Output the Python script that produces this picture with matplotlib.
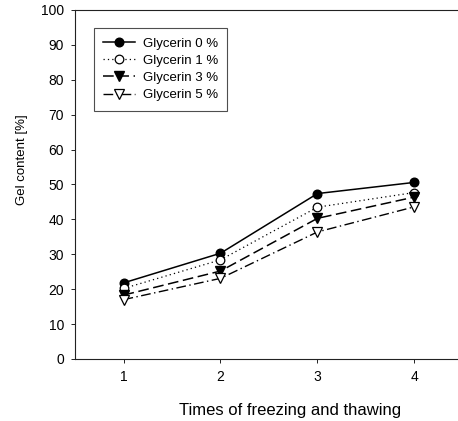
# gel content of the hydrogels after repeated freezing / thawing cycles,
# one curve per glycerin concentration
import matplotlib.pyplot as plt

plt.rcParams['font.family'] = ['Liberation Sans', 'DejaVu Sans']

# DATA
cycles = [1, 2, 3, 4]
gel_glycerin_0 = [21.8, 30.3, 47.4, 50.6]
gel_glycerin_1 = [20.2, 28.4, 43.5, 47.7]
gel_glycerin_3 = [18.3, 25.2, 40.3, 46.4]
gel_glycerin_5 = [17.0, 23.1, 36.4, 43.6]
series_labels = ["Glycerin 0 %", "Glycerin 1 %", "Glycerin 3 %", "Glycerin 5 %"]

# FIGURE
fig = plt.figure(figsize=(4.58, 4.21), dpi=100)
ax = fig.add_axes([0.1638, 0.1473, 0.847, 0.829])

ax.plot(cycles, gel_glycerin_0, color='black', lw=1.1, ls='-',
        marker='o', ms=6.2, mfc='black', mec='black', label=series_labels[0])
ax.plot(cycles, gel_glycerin_1, color='black', lw=0.9, ls=(0, (1, 2.5)),
        marker='o', ms=6.2, mfc='white', mec='black', mew=0.9, label=series_labels[1])
ax.plot(cycles, gel_glycerin_3, color='black', lw=1.1, ls=(0, (7, 3)),
        marker='v', ms=6.5, mfc='black', mec='black', label=series_labels[2])
ax.plot(cycles, gel_glycerin_5, color='black', lw=1.0, ls=(0, (7, 2.5, 1, 2.5)),
        marker='v', ms=6.5, mfc='white', mec='black', mew=0.9, label=series_labels[3])

# AXES
ax.set_xlim(0.5, 4.5)
ax.set_ylim(0, 100)
ax.set_xticks(cycles)
ax.set_yticks(range(0, 101, 10))
ax.spines['right'].set_visible(False)
for side in ['left', 'top', 'bottom']:
    ax.spines[side].set_linewidth(0.8)
    ax.spines[side].set_color('#222222')
ax.tick_params(axis='both', direction='out', length=3, width=0.7, pad=5,
               labelsize=10, color='#222222')
ax.tick_params(axis='y', right=False)

ax.set_xlabel("Times of freezing and thawing", fontsize=12)
ax.set_ylabel("Gel content [%]", fontsize=9.5)
ax.xaxis.set_label_coords(0.555, -0.125)
ax.yaxis.set_label_coords(-0.122, 0.57)

leg = ax.legend(loc='upper left', bbox_to_anchor=(0.049, 0.948), borderaxespad=0,
                fontsize=9.5, frameon=True, fancybox=False, edgecolor='#222222',
                handlelength=2.4, handletextpad=0.6, labelspacing=0.38,
                borderpad=0.7)
leg.get_frame().set_linewidth(0.8)

fig.savefig("out.png", dpi=100)
